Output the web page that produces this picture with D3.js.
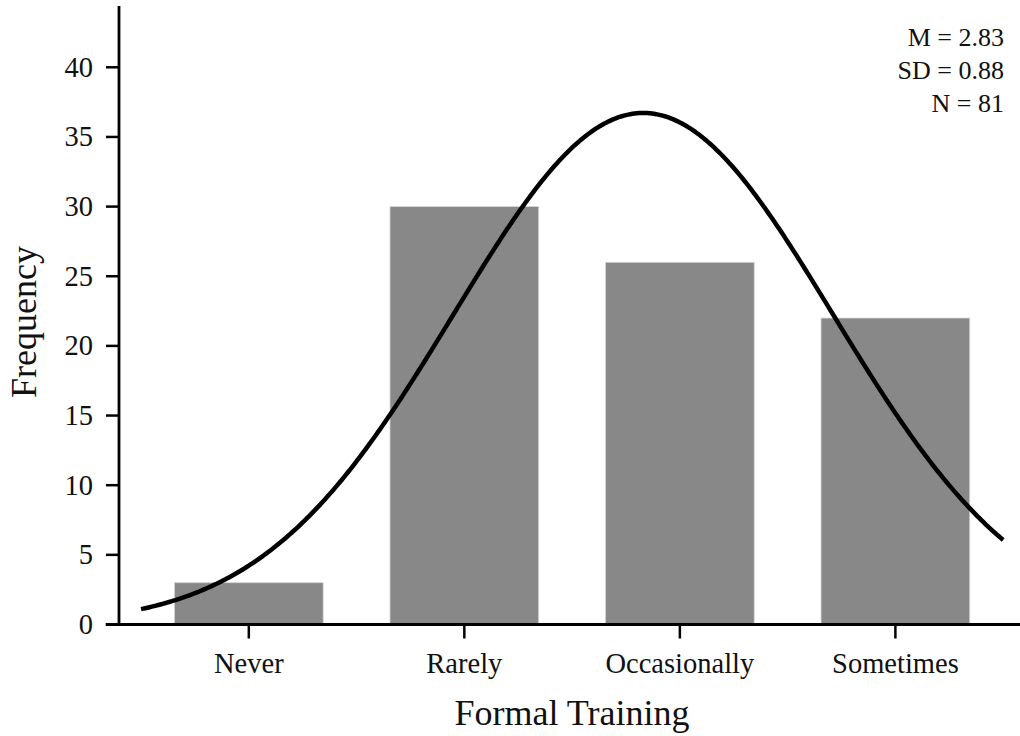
<!DOCTYPE html>
<html>
<head>
<meta charset="utf-8">
<script src="https://cdn.jsdelivr.net/npm/d3@7"></script>
<style>
  html, body { margin: 0; padding: 0; background: #fff; }
  svg { display: block; font-family: "Liberation Serif", "Times New Roman", serif; }
</style>
</head>
<body>
<div id="chart"></div>
<script>
"use strict";

var categories = ["Never", "Rarely", "Occasionally", "Sometimes"];
var counts = [3, 30, 26, 22];
var yTicks = [0, 5, 10, 15, 20, 25, 30, 35, 40];
var stats = { mean: 2.83, sd: 0.88, n: 81 };
var statLabels = ["M = 2.83", "SD = 0.88", "N = 81"];

var width = 1020,
  height = 736;

var svg = d3
  .select("#chart")
  .append("svg")
  .attr("width", width)
  .attr("height", height);

// category k sits at position k+1
var x = d3.scaleLinear().domain([0.336, 4.664]).range([105.7, 1038.5]);
var y = d3.scaleLinear().domain([0, 44.4]).range([624.5, 6]);
var axisX = 119;
var barWidth = 0.69;

// bars
svg
  .append("g")
  .selectAll("rect")
  .data(counts)
  .join("rect")
  .attr("x", (d, i) => x(i + 1 - barWidth / 2))
  .attr("width", (d, i) => x(i + 1 + barWidth / 2) - x(i + 1 - barWidth / 2))
  .attr("y", (d) => y(d))
  .attr("height", (d) => y(0) - y(d))
  .attr("fill", "#888888")
  .attr("stroke", "#d4d4d4")
  .attr("stroke-width", 0.8);

// normal curve fitted to the stated mean / sd, scaled by N (bin width 1)
var curvePts = d3.range(0, 401).map(function (k) {
  var v = 0.5 + k * 0.01;
  var z = (v - stats.mean) / stats.sd;
  return [v, (stats.n / (stats.sd * Math.sqrt(2 * Math.PI))) * Math.exp(-0.5 * z * z)];
});

svg
  .append("path")
  .datum(curvePts)
  .attr("fill", "none")
  .attr("stroke", "#000")
  .attr("stroke-width", 4.5)
  .attr("stroke-linecap", "butt")
  .attr(
    "d",
    d3
      .line()
      .x((d) => x(d[0]))
      .y((d) => y(d[1]))
  );

// x axis
var xAxis = svg.append("g").attr("transform", "translate(0," + y(0) + ")");
xAxis
  .append("line")
  .attr("x1", 105.7)
  .attr("x2", width)
  .attr("stroke", "#000")
  .attr("stroke-width", 2.8);
var xt = xAxis
  .selectAll(".xtick")
  .data(categories)
  .join("g")
  .attr("class", "xtick")
  .attr("transform", (d, i) => "translate(" + x(i + 1) + ",0)");
xt.append("line").attr("y1", 0).attr("y2", 14).attr("stroke", "#000").attr("stroke-width", 2.5);
xt.append("text")
  .attr("y", 48)
  .attr("text-anchor", "middle")
  .attr("font-size", 28.5)
  .attr("fill", "#111")
  .text((d) => d);

// y axis
var yAxis = svg.append("g").attr("transform", "translate(" + axisX + ",0)");
yAxis
  .append("line")
  .attr("y1", 6)
  .attr("y2", y(0))
  .attr("stroke", "#000")
  .attr("stroke-width", 2.8);
var yt = yAxis
  .selectAll(".ytick")
  .data(yTicks)
  .join("g")
  .attr("class", "ytick")
  .attr("transform", (d) => "translate(0," + y(d) + ")");
yt.append("line").attr("x1", 0).attr("x2", -13).attr("stroke", "#000").attr("stroke-width", 2.5);
yt.append("text")
  .attr("x", -26)
  .attr("dy", "0.33em")
  .attr("text-anchor", "end")
  .attr("font-size", 28.5)
  .attr("fill", "#111")
  .text((d) => d);

// axis titles
svg
  .append("text")
  .attr("x", 572)
  .attr("y", 725)
  .attr("text-anchor", "middle")
  .attr("font-size", 36)
  .attr("fill", "#111")
  .text("Formal Training");

svg
  .append("text")
  .attr("transform", "translate(36,322) rotate(-90)")
  .attr("text-anchor", "middle")
  .attr("font-size", 36)
  .attr("fill", "#111")
  .text("Frequency");

// stats annotation
svg
  .append("g")
  .selectAll("text")
  .data(statLabels)
  .join("text")
  .attr("x", 1004)
  .attr("y", (d, i) => 45.5 + i * 33.2)
  .attr("text-anchor", "end")
  .attr("font-size", 26)
  .attr("fill", "#111")
  .text((d) => d);
</script>
</body>
</html>
